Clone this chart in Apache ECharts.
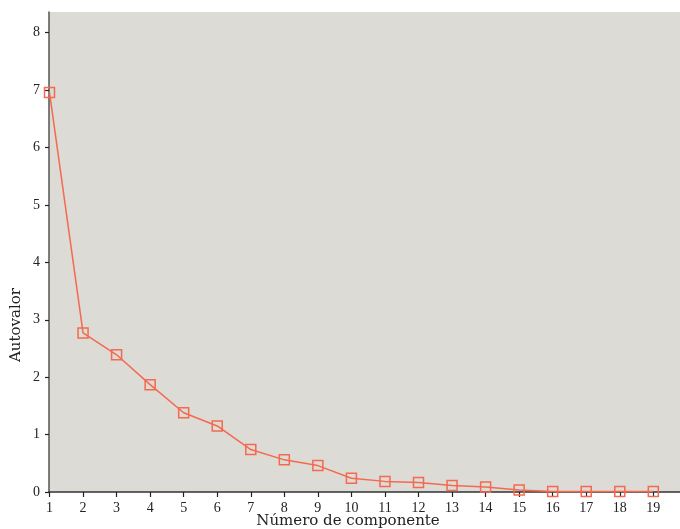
<!DOCTYPE html>
<html>
<head>
<meta charset="utf-8">
<script src="https://cdn.jsdelivr.net/npm/echarts@6/dist/echarts.min.js"></script>
<style>
html,body{margin:0;padding:0;background:#fff;}
#c{width:680px;height:529px;}
</style>
</head>
<body>
<div id="c"></div>
<script>
const components = [1,2,3,4,5,6,7,8,9,10,11,12,13,14,15,16,17,18,19];
const eigenvalues = [6.96,2.77,2.39,1.87,1.38,1.15,0.74,0.56,0.46,0.24,0.185,0.165,0.115,0.085,0.035,0.01,0.01,0.01,0.01];
const yTicks = [0,1,2,3,4,5,6,7,8];
const xLabel = 'Número de componente';
const yLabel = 'Autovalor';

const font = '"Liberation Serif", "DejaVu Serif", serif';
const titleFont = '"DejaVu Serif", serif';
const chart = echarts.init(document.getElementById('c'));
chart.setOption({
  animation: false,
  backgroundColor: '#ffffff',
  grid: {left: 49, right: 0, top: 12, bottom: 37, show: true, backgroundColor: '#dcdbd6', borderWidth: 0},
  xAxis: {
    type: 'value', min: 0.985, max: 19.795,
    axisLine: {show: true, onZero: false, lineStyle: {color: '#333', width: 1.5}},
    axisTick: {show: true, length: 5, inside: false, customValues: components, lineStyle: {color: '#222', width: 1.2}},
    axisLabel: {customValues: components, color: '#222', fontFamily: font, fontSize: 14, margin: 9},
    splitLine: {show: false}
  },
  yAxis: {
    type: 'value', min: 0, max: 8.36,
    axisLine: {show: true, lineStyle: {color: '#555', width: 1.5}},
    axisTick: {show: true, length: 4, customValues: yTicks, lineStyle: {color: '#222', width: 1.2}},
    axisLabel: {customValues: yTicks, color: '#222', fontFamily: font, fontSize: 14, margin: 9},
    splitLine: {show: false}
  },
  graphic: [
    {type: 'text', x: 348, y: 514, style: {text: xLabel, font: '15px ' + titleFont, fill: '#222', align: 'center', verticalAlign: 'top'}},
    {type: 'text', x: 9, y: 325, rotation: Math.PI/2, style: {text: yLabel, font: '15px ' + titleFont, fill: '#222', align: 'center', verticalAlign: 'top'}}
  ],
  series: [{
    type: 'line',
    data: components.map((c, i) => [c, eigenvalues[i]]),
    symbol: 'rect', symbolSize: 10,
    lineStyle: {color: '#f4694f', width: 1.5},
    itemStyle: {color: 'rgba(0,0,0,0)', borderColor: '#f4694f', borderWidth: 1.5},
    clip: false
  }]
});
</script>
</body>
</html>
